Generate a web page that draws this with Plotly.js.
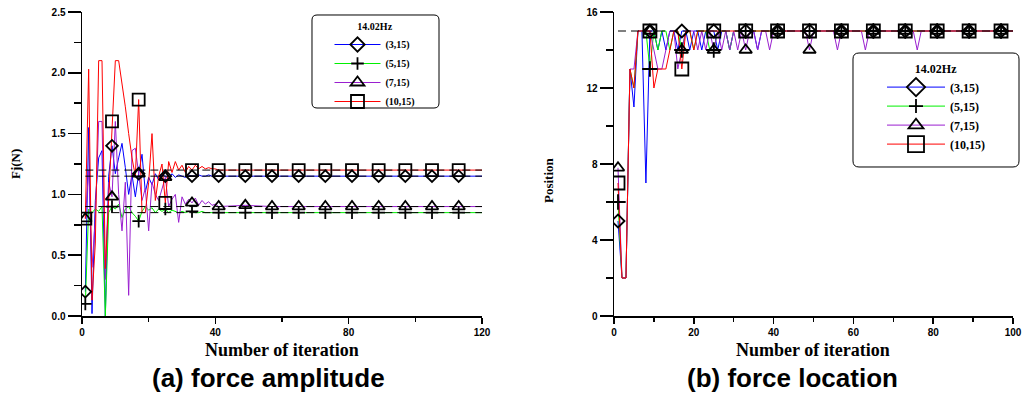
<!DOCTYPE html>
<html><head><meta charset="utf-8">
<script src="https://cdn.plot.ly/plotly-3.0.1.min.js"></script>
<style>html,body{margin:0;padding:0;background:#fff}#chart{width:1026px;height:395px}</style>
</head><body><div id="chart"></div>
<script>
// ---------- shared ----------
const seriesNames = ['(3,15)', '(5,15)', '(7,15)', '(10,15)'];
const seriesColors = ['#0000ff', '#00f000', '#9a1fd0', '#ff0000'];
const markerSymbols = ['diamond-open', 'cross-thin-open', 'triangle-up-open', 'square-open'];
const legendTitle = '14.02Hz';
const captionA = '(a) force amplitude';
const captionB = '(b) force location';
const xTitle = 'Number of iteration';
const yTitleA = 'Fj(N)';
const yTitleB = 'Position';

// ---------- (a) force amplitude ----------
const ampIter = [1,2,3,4,5,6,7,8,9,10,11,12,13,14,15,16,17,18,19,20,
  21,22,23,24,25,26,27,28,29,30,31,32,33,34,35,36,37,38,39,40,
  41,49,57,65,73,81,89,97,105,113,120];
const ampS1 = [0.20,1.55,0.02,0.95,1.30,1.36,0.00,1.15,1.40,1.17,1.30,1.42,1.22,1.00,1.16,0.98,1.17,1.33,1.02,1.14,
  1.08,1.17,1.12,1.16,1.15,1.13,1.17,1.14,1.16,1.15,1.14,1.16,1.15,1.15,1.16,1.15,1.15,1.16,1.15,1.15,
  1.15,1.15,1.15,1.15,1.15,1.15,1.15,1.15,1.15,1.15,1.15];
const ampS2 = [0.10,0.88,0.85,0.88,0.86,0.90,0.00,0.85,0.90,0.88,0.92,0.81,0.88,0.90,0.85,0.82,0.78,0.86,0.90,0.87,
  0.89,0.85,0.88,0.86,0.88,0.85,0.87,0.86,0.85,0.86,0.85,0.86,0.86,0.85,0.85,0.86,0.85,0.85,0.85,0.85,
  0.85,0.85,0.85,0.85,0.85,0.85,0.85,0.85,0.85,0.85,0.85];
const ampS3 = [0.80,1.20,0.40,0.80,1.60,1.60,0.30,1.10,0.98,1.60,1.00,0.70,1.10,0.17,1.36,1.38,1.17,0.95,1.05,0.70,
  1.10,1.00,0.95,1.05,1.14,0.90,0.96,1.00,0.77,0.98,0.92,0.96,0.93,0.97,0.91,0.95,0.92,0.94,0.91,0.92,
  0.90,0.91,0.90,0.90,0.90,0.90,0.90,0.90,0.90,0.90,0.90];
const ampS4 = [0.80,2.03,0.13,0.60,2.10,2.10,0.39,1.00,1.60,2.10,2.10,1.92,1.72,1.50,1.30,1.15,1.78,0.85,0.85,1.10,
  1.50,0.95,1.15,1.25,0.93,1.27,1.18,1.27,1.20,1.24,1.18,1.23,1.20,1.24,1.21,1.23,1.21,1.22,1.21,1.21,
  1.20,1.20,1.20,1.20,1.20,1.20,1.20,1.20,1.20,1.20,1.20];
const ampMarkerIter = [1,9,17,25,33,41,49,57,65,73,81,89,97,105,113];
const ampRefLevels = [1.20, 1.15, 0.90, 0.85];
const ampRefSpan = [1, 120];

// ---------- (b) force location ----------
const locIter = [1,2,3,4,5,6,7,8,9,10,11,12,13,14,15,16,17,18,19,20,
  21,22,23,24,25,26,27,28,29,30,31,32,33,34,35,36,37,38,39,40,
  41,48,49,50,55,56,57,62,63,64,65,73,75,76,77,81,89,97,100];
const locS1 = [5,2,2,13,11,15,15,7,15,15,14,15,14,15,15,14,15,15,14,15,
  15,14,15,15,15,14,15,15,14,15,15,15,15,15,15,14,15,15,15,15,
  15,15,15,15,15,15,15,15,15,15,15,15,15,15,15,15,15,15,15];
const locS2 = [6,2,2,13,12,15,15,15,13,15,14,15,15,14,15,15,14,15,15,14,
  15,15,15,14,14,15,15,15,14,15,15,15,15,15,15,15,15,15,15,15,
  15,15,15,15,15,15,15,15,15,15,15,15,15,15,15,15,15,15,15];
const locS3 = [7.8,2,2,13,13,15,15,15,15,14,13,13,14,15,15,13,14,15,15,15,
  14,15,14,15,14,15,14,15,14,15,14,15,14,15,15,14,15,15,14,15,
  15,15,14,15,15,14,15,15,14,15,15,15,15,14,15,15,15,15,15];
const locS4 = [7,2,2,13,12,15,15,15,15,12,13,13,13,14,15,15,13,15,15,14,
  15,15,15,15,15,15,15,15,15,15,15,15,15,15,15,15,15,15,15,15,
  15,15,15,15,15,15,15,15,15,15,15,15,15,15,15,15,15,15,15];
const locMarkerIter = [1,9,17,25,33,41,49,57,65,73,81,89,97];
const locRefLevels = [15];
const locRefSpan = [1, 100];

// ---------- build ----------
const W = 1026, H = 395;
const px = v => v / W, py = v => 1 - v / H;

function buildTraces(iter, series, markerIter, refLevels, refSpan, xa, ya, legendId, mSizes, lSizes) {
  const tr = [];
  series.forEach((s, i) => tr.push({
    x: iter, y: s, mode: 'lines', xaxis: xa, yaxis: ya, showlegend: false, hoverinfo: 'skip',
    line: {color: seriesColors[i], width: 1}
  }));
  refLevels.forEach(v => tr.push({
    x: refSpan, y: [v, v], mode: 'lines', xaxis: xa, yaxis: ya, showlegend: false, hoverinfo: 'skip',
    line: {color: '#000', width: 1, dash: '8px,5px'}
  }));
  series.forEach((s, i) => {
    const mx = [], my = [];
    iter.forEach((t, k) => { if (markerIter.includes(t)) { mx.push(t); my.push(s[k]); } });
    tr.push({
      x: mx, y: my, mode: 'markers', xaxis: xa, yaxis: ya, showlegend: false, hoverinfo: 'skip',
      marker: {symbol: markerSymbols[i], size: mSizes[i], color: '#000', line: {color: '#000', width: 1.8}}
    });
  });
  series.forEach((s, i) => tr.push({
    x: [null], y: [null], mode: 'lines+markers', name: seriesNames[i], legend: legendId,
    xaxis: xa, yaxis: ya, showlegend: true,
    line: {color: seriesColors[i], width: 1},
    marker: {symbol: markerSymbols[i], size: lSizes[i], color: '#000', line: {color: '#000', width: 1.8}}
  }));
  return tr;
}

const data = [].concat(
  buildTraces(ampIter, [ampS1, ampS2, ampS3, ampS4], ampMarkerIter, ampRefLevels, ampRefSpan,
    'x', 'y', 'legend', [9, 9, 11, 12], [11, 9, 12, 13]),
  buildTraces(locIter, [locS1, locS2, locS3, locS4], locMarkerIter, locRefLevels, locRefSpan,
    'x2', 'y2', 'legend2', [10, 11, 11, 13], [14, 10, 13, 16])
);

const tickFont = {family: 'Liberation Sans, Arial, sans-serif', size: 10, color: '#000', weight: 'bold'};
const serif = 'Liberation Serif, Times New Roman, serif';

function xAxis(dom, range, dtick, minorDtick, anchor) {
  return {domain: dom, range: range, anchor: anchor, showline: true, linecolor: '#000', linewidth: 1.5,
    ticks: 'outside', ticklen: 6, tickwidth: 1.5, tickcolor: '#000', dtick: dtick, tick0: 0,
    minor: {ticks: 'outside', ticklen: 4, tickwidth: 1.5, tickcolor: '#000', dtick: minorDtick},
    showgrid: false, zeroline: false, tickfont: tickFont, fixedrange: true};
}
function yAxis(dom, range, dtick, minorDtick, anchor, fmt) {
  return {domain: dom, range: range, anchor: anchor, showline: true, linecolor: '#000', linewidth: 1.5,
    ticks: 'outside', ticklen: 13, tickwidth: 1.5, tickcolor: '#000', dtick: dtick, tick0: 0, tickformat: fmt,
    minor: {ticks: 'outside', ticklen: 7, tickwidth: 1.5, tickcolor: '#000', dtick: minorDtick},
    showgrid: false, zeroline: false, tickfont: tickFont, fixedrange: true};
}

function roundRect(x0, y0, x1, y1, r) {
  const X = v => px(v).toFixed(5), Y = v => py(v).toFixed(5);
  return 'M' + X(x0 + r) + ',' + Y(y0) + ' L' + X(x1 - r) + ',' + Y(y0) +
    ' Q' + X(x1) + ',' + Y(y0) + ' ' + X(x1) + ',' + Y(y0 + r) +
    ' L' + X(x1) + ',' + Y(y1 - r) + ' Q' + X(x1) + ',' + Y(y1) + ' ' + X(x1 - r) + ',' + Y(y1) +
    ' L' + X(x0 + r) + ',' + Y(y1) + ' Q' + X(x0) + ',' + Y(y1) + ' ' + X(x0) + ',' + Y(y1 - r) +
    ' L' + X(x0) + ',' + Y(y0 + r) + ' Q' + X(x0) + ',' + Y(y0) + ' ' + X(x0 + r) + ',' + Y(y0) + ' Z';
}

function legendCfg(cx, top, fs, iw) {
  return {x: px(cx), xanchor: 'center', y: py(top), yanchor: 'top', bgcolor: 'rgba(0,0,0,0)', borderwidth: 0,
    itemwidth: iw, font: {family: serif, size: fs, color: '#000', weight: 'bold'},
    title: {text: legendTitle, side: 'top center', font: {family: serif, size: fs, color: '#000', weight: 'bold'}}};
}

function ann(text, x, y, font, angle) {
  return {text: text, x: px(x), y: py(y), xref: 'paper', yref: 'paper', showarrow: false,
    xanchor: 'center', yanchor: 'middle', textangle: angle || 0, font: font};
}
const titleFont = {family: serif, size: 18, color: '#000', weight: 'bold'};
const yTitleFont = {family: serif, size: 13, color: '#000', weight: 'bold'};
const capFont = {family: 'Liberation Sans, Arial, sans-serif', size: 26, color: '#000', weight: 'bold'};

const layout = {
  width: W, height: H, margin: {l: 0, r: 0, t: 0, b: 0}, paper_bgcolor: '#fff', plot_bgcolor: '#fff',
  showlegend: true,
  xaxis: xAxis([px(82), px(482)], [0, 120], 40, 20, 'y'),
  yaxis: yAxis([py(316), py(12)], [0, 2.5], 0.5, 0.25, 'x', '.1f'),
  xaxis2: xAxis([px(614), px(1013)], [0, 100], 20, 10, 'y2'),
  yaxis2: yAxis([py(316), py(12)], [0, 16], 4, 2, 'x2', 'd'),
  legend: legendCfg(375, 17, 10, 46),
  legend2: legendCfg(936, 57, 12, 58),
  shapes: [
    {type: 'path', xref: 'paper', yref: 'paper', path: roundRect(312, 15, 439, 108, 5), line: {color: '#000', width: 1}},
    {type: 'path', xref: 'paper', yref: 'paper', path: roundRect(853, 53, 1019, 167, 6), line: {color: '#000', width: 1}}
  ],
  annotations: [
    ann(yTitleA, 15, 164, yTitleFont, -90),
    ann(yTitleB, 548, 180, yTitleFont, -90),
    ann(xTitle, 282, 350, titleFont),
    ann(xTitle, 813, 350, titleFont),
    ann(captionA, 268, 378, capFont),
    ann(captionB, 792, 378, capFont)
  ]
};

Plotly.newPlot('chart', data, layout, {staticPlot: true, displayModeBar: false});
</script>
</body></html>
